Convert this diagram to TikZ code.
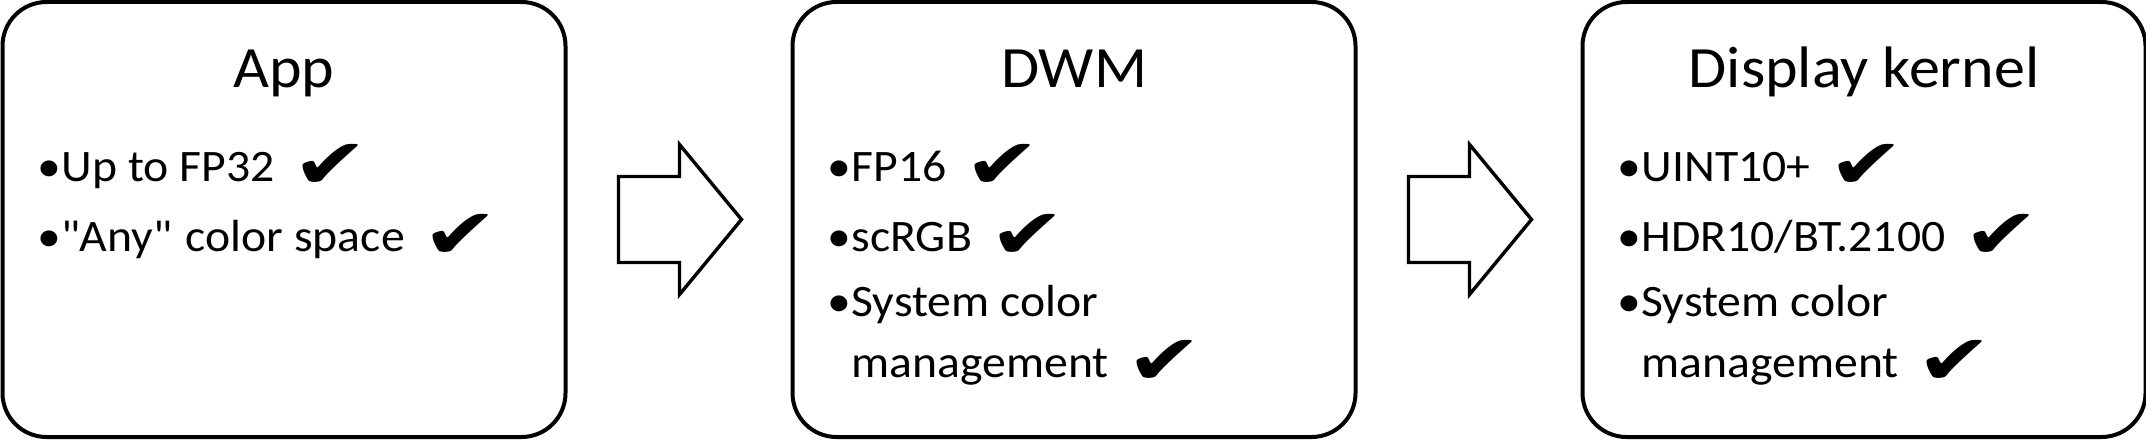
\documentclass[tikz,border=0pt]{standalone}
\usepackage{fontspec}
\setmainfont[FakeStretch=1.06]{Carlito}
\newfontfamily\checkfont{DejaVu Sans}
\usetikzlibrary{calc}
\newcommand{\okmark}{\hspace{9pt}{\checkfont\fontsize{35}{35}\selectfont\raisebox{-3.5pt}{\scalebox{1.3}[1]{✔}}}}
\tikzstyle{stage} = [rectangle, rounded corners=22pt, minimum width=281.5pt, minimum height=217.5pt, outer sep=0pt, line width=2pt, draw=black]
\tikzstyle{heading} = [inner sep=0pt, anchor=base, font=\fontsize{29.25}{34}\selectfont]
\tikzstyle{point} = [inner sep=0pt, anchor=base west, font=\fontsize{22.5}{30}\selectfont]
\tikzstyle{blockarrow} = [line width=1.7pt, draw=black, fill=white, line join=miter]

\begin{document}
\begin{tikzpicture}[x=0.5pt, y=0.5pt, node distance=395pt]
        \useasboundingbox (0,0) rectangle (2146,440);
        \node (app) [stage] at (284,220.5) {};
        \node (dwm) [stage, right of=app] {};
        \node (kernel) [stage, right of=dwm] {};

        \node (apptitle) [heading] at ($(app.north)+(0,-86)$) {App};
        \node (app1) [point] at ($(app.north west)+(35,-179)$) {•Up to FP32\okmark};
        \node (app2) [point] at ($(app1.base west)+(0,-70)$) {•\textquotedbl Any\textquotedbl{}\hspace{2pt} color space\okmark};

        \node (dwmtitle) [heading] at ($(dwm.north)+(0,-86)$) {DWM};
        \node (dwm1) [point] at ($(dwm.north west)+(35,-179)$) {•FP16\okmark};
        \node (dwm2) [point] at ($(dwm1.base west)+(0,-70)$) {•scRGB\okmark};
        \node (dwm3) [point] at ($(dwm2.base west)+(0,-65)$) {•System color};
        \node (dwm4) [point] at ($(dwm3.base west)+(0,-61)$) {\phantom{•}management\okmark};

        \node (kerneltitle) [heading] at ($(kernel.north)+(0,-86)$) {Display kernel};
        \node (kernel1) [point] at ($(kernel.north west)+(35,-179)$) {•UINT10+\okmark};
        \node (kernel2) [point] at ($(kernel1.base west)+(0,-70)$) {•HDR10/BT.2100\okmark};
        \node (kernel3) [point] at ($(kernel2.base west)+(0,-65)$) {•System color};
        \node (kernel4) [point] at ($(kernel3.base west)+(0,-61)$) {\phantom{•}management\okmark};

        \draw [blockarrow] ($(app.east)+(53,-43)$) -- ++(61,0) -- ++(0,-32) -- ++(62,75) -- ++(-62,75) -- ++(0,-32) -- ++(-61,0) -- cycle;
        \draw [blockarrow] ($(dwm.east)+(53,-43)$) -- ++(61,0) -- ++(0,-32) -- ++(62,75) -- ++(-62,75) -- ++(0,-32) -- ++(-61,0) -- cycle;
    \end{tikzpicture}
\end{document}
